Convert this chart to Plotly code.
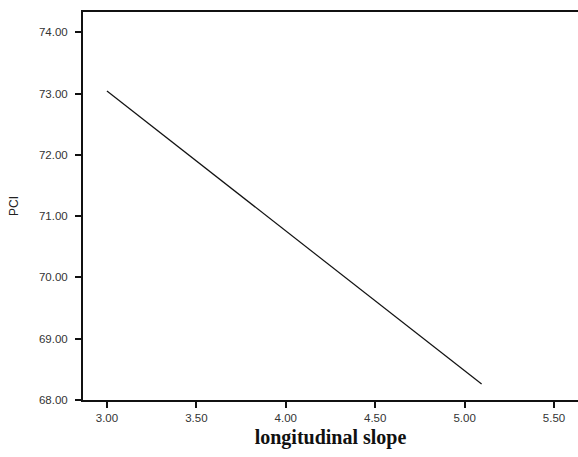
import plotly.graph_objects as go

# Data
slope = [3.00, 5.095]
pci = [73.04, 68.26]

x_ticks = [3.00, 3.50, 4.00, 4.50, 5.00, 5.50]
y_ticks = [68.00, 69.00, 70.00, 71.00, 72.00, 73.00, 74.00]

fig = go.Figure()
fig.add_trace(go.Scatter(x=slope, y=pci, mode="lines",
                         line=dict(color="#111111", width=1.2),
                         showlegend=False, hoverinfo="skip"))

fig.update_layout(
    width=578, height=457,
    margin=dict(l=83, r=0, t=12, b=57),
    paper_bgcolor="white", plot_bgcolor="white",
    font=dict(family="Arial, Liberation Sans, sans-serif", size=11, color="#222"),
)
fig.update_xaxes(
    range=[2.866, 5.634], tickvals=x_ticks,
    ticktext=[f"{v:.2f}" for v in x_ticks],
    showgrid=False, zeroline=False,
    showline=True, linecolor="#111", linewidth=2, mirror=True,
    ticks="outside", ticklen=6, tickwidth=1.5, tickcolor="#111",
    tickfont=dict(size=11.5, color="#333"),
    title=dict(text="<b>longitudinal slope</b>",
               font=dict(family="Liberation Serif, Times New Roman, serif", size=20, color="#111"),
               standoff=7),
)
fig.update_yaxes(
    range=[68.0, 74.33], tickvals=y_ticks,
    ticktext=[f"{v:.2f}" for v in y_ticks],
    showgrid=False, zeroline=False,
    showline=True, linecolor="#111", linewidth=2,
    ticks="outside", ticklen=6, tickwidth=1.5, tickcolor="#111",
    ticklabelstandoff=5,
    tickfont=dict(size=11.5, color="#333"),
    title=dict(text="PCI", font=dict(size=12, color="#222"), standoff=18),
)

fig.write_html("out.html")
